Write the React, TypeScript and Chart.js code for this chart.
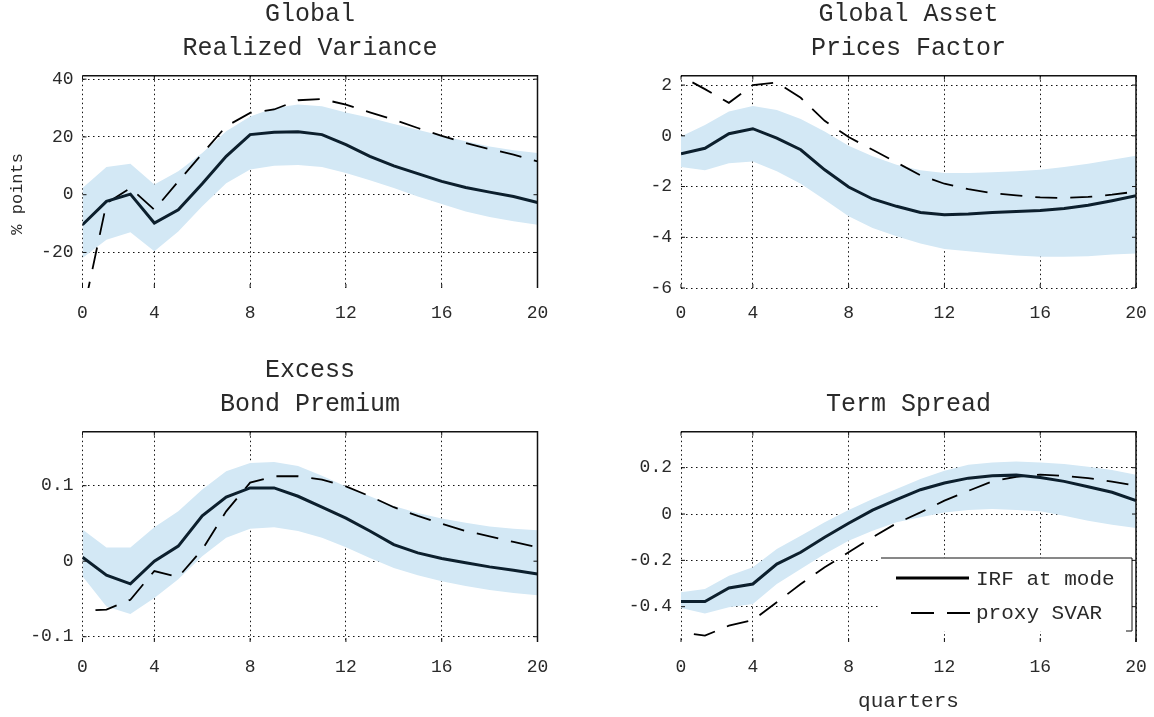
import { useEffect, useRef } from "react";
import { Chart, registerables } from "chart.js";

Chart.register(...registerables);

const FONT = "'Liberation Mono', 'DejaVu Sans Mono', monospace";

// horizon positions on the axis (tick "0" sits at position 1)
const xPositions = [1, 2, 3, 4, 5, 6, 7, 8, 9, 10, 11, 12, 13, 14, 15, 16, 17, 18, 19, 20];
const xTickValues = [1, 4, 8, 12, 16, 20];
const xTickLabels = ["0", "4", "8", "12", "16", "20"];

// Panel 1: Global Realized Variance
const rvIrf = [-10.4, -2.3, 0.2, -9.8, -5.2, 3.8, 13.3, 20.8, 21.6, 21.8, 20.8, 17.3, 13.3, 10.0, 7.3, 4.6, 2.5, 0.9, -0.6, -2.7];
const rvUpper = [2.3, 9.6, 10.7, 3.5, 8.1, 14.4, 22, 27.1, 30, 31.2, 30.6, 28.5, 26.6, 24.5, 22.5, 20.4, 18.5, 16.7, 15.4, 14.4];
const rvLower = [-21.9, -15.6, -13, -19.6, -12.7, -4, 4, 8.7, 10, 10.3, 9.6, 7.5, 5, 2.3, -0.6, -3.2, -5.8, -7.7, -9.2, -10.4];
const rvProxy = [-42, -3, 2.3, -5.2, 4.6, 14.2, 23.7, 28.3, 29.5, 32.7, 33.1, 31.2, 28.5, 26, 23.1, 20.4, 17.9, 15.8, 13.9, 11.5];
const rvTicks = [-20, 0, 20, 40];
const rvTickLabels = ["-20", "0", "20", "40"];

// Panel 2: Global Asset Prices Factor
const apIrf = [-0.71, -0.49, 0.08, 0.28, -0.09, -0.55, -1.34, -2.02, -2.49, -2.78, -3.02, -3.11, -3.08, -3.02, -2.98, -2.94, -2.87, -2.74, -2.56, -2.36];
const apUpper = [-0.03, 0.43, 0.96, 1.18, 1.02, 0.66, 0.17, -0.39, -0.81, -1.14, -1.36, -1.47, -1.47, -1.44, -1.4, -1.34, -1.23, -1.1, -0.94, -0.79];
const apLower = [-1.23, -1.36, -1.08, -1.01, -1.4, -1.89, -2.52, -3.17, -3.63, -3.96, -4.25, -4.46, -4.55, -4.64, -4.72, -4.77, -4.77, -4.75, -4.68, -4.64];
const apProxy = [2.35, 1.84, 1.3, 2.0, 2.1, 1.5, 0.59, -0.05, -0.55, -1.05, -1.56, -1.89, -2.1, -2.26, -2.35, -2.43, -2.45, -2.41, -2.32, -2.2];
const apTicks = [-6, -4, -2, 0, 2];
const apTickLabels = ["-6", "-4", "-2", "0", "2"];

// Panel 3: Excess Bond Premium
const ebpIrf = [0.0053, -0.0185, -0.03, 0.0, 0.02, 0.06, 0.085, 0.097, 0.097, 0.086, 0.0715, 0.057, 0.04, 0.022, 0.011, 0.0035, -0.002, -0.0075, -0.012, -0.017];
const ebpUpper = [0.042, 0.018, 0.018, 0.045, 0.066, 0.095, 0.119, 0.13, 0.1315, 0.126, 0.113, 0.099, 0.086, 0.073, 0.064, 0.0565, 0.051, 0.046, 0.043, 0.041];
const ebpLower = [-0.02, -0.06, -0.07, -0.0486, -0.024, 0.0066, 0.031, 0.043, 0.045, 0.04, 0.031, 0.0185, 0.0044, -0.009, -0.0185, -0.0265, -0.033, -0.038, -0.042, -0.045];
const ebpProxy = [-0.066, -0.064, -0.051, -0.013, -0.021, 0.0155, 0.066, 0.104, 0.1125, 0.1125, 0.108, 0.099, 0.086, 0.0715, 0.06, 0.0495, 0.04, 0.033, 0.0256, 0.0185];
const ebpTicks = [-0.1, 0, 0.1];
const ebpTickLabels = ["-0.1", "0", "0.1"];

// Panel 4: Term Spread
const tsIrf = [-0.378, -0.378, -0.319, -0.302, -0.216, -0.165, -0.1, -0.04, 0.017, 0.062, 0.105, 0.134, 0.155, 0.165, 0.168, 0.158, 0.141, 0.118, 0.094, 0.058];
const tsUpper = [-0.338, -0.324, -0.266, -0.23, -0.151, -0.094, -0.036, 0.017, 0.065, 0.108, 0.151, 0.187, 0.213, 0.223, 0.227, 0.223, 0.216, 0.204, 0.19, 0.17];
const tsLower = [-0.406, -0.429, -0.403, -0.388, -0.302, -0.237, -0.173, -0.115, -0.072, -0.036, -0.014, 0.007, 0.017, 0.022, 0.017, 0.0115, -0.007, -0.029, -0.046, -0.06];
const tsProxy = [-0.51, -0.525, -0.482, -0.458, -0.381, -0.302, -0.23, -0.165, -0.1, -0.04, 0.007, 0.058, 0.1, 0.141, 0.161, 0.17, 0.165, 0.155, 0.14, 0.122];
const tsTicks = [-0.4, -0.2, 0, 0.2];
const tsTickLabels = ["-0.4", "-0.2", "0", "0.2"];

const legendLabels = ["IRF at mode", "proxy SVAR"];

const NAVY = "#0c1f2d";
const BAND = "rgba(211, 232, 245, 1)";
const TEXT = "#2a2a2a";

type PanelCfg = {
  title: string[];
  irf: number[];
  upper: number[];
  lower: number[];
  proxy: number[];
  yMin: number;
  yMax: number;
  yTicks: number[];
  yTickLabels: string[];
  yTitle?: string;
  xTitle?: string;
  legend?: boolean;
  // layout
  left: number;
  top: number;
  w: number;
  h: number;
  yW: number;
  padTop: number;
  padRight: number;
  xH: number;
};

const panels: PanelCfg[] = [
  {
    title: ["Global", "Realized Variance"],
    irf: rvIrf, upper: rvUpper, lower: rvLower, proxy: rvProxy,
    yMin: -32.3, yMax: 41.2, yTicks: rvTicks, yTickLabels: rvTickLabels,
    yTitle: "% points",
    left: 0, top: 0, w: 577, h: 358, yW: 82.5, padTop: 75.7, padRight: 39.5, xH: 70,
  },
  {
    title: ["Global Asset", "Prices Factor"],
    irf: apIrf, upper: apUpper, lower: apLower, proxy: apProxy,
    yMin: -6, yMax: 2.37, yTicks: apTicks, yTickLabels: apTickLabels,
    left: 577, top: 0, w: 577, h: 358, yW: 104, padTop: 75.7, padRight: 18, xH: 70,
  },
  {
    title: ["Excess", "Bond Premium"],
    irf: ebpIrf, upper: ebpUpper, lower: ebpLower, proxy: ebpProxy,
    yMin: -0.107, yMax: 0.1715, yTicks: ebpTicks, yTickLabels: ebpTickLabels,
    left: 0, top: 358, w: 577, h: 359, yW: 82.5, padTop: 73.7, padRight: 39.5, xH: 75,
  },
  {
    title: ["Term Spread"],
    irf: tsIrf, upper: tsUpper, lower: tsLower, proxy: tsProxy,
    yMin: -0.5525, yMax: 0.3555, yTicks: tsTicks, yTickLabels: tsTickLabels,
    xTitle: "quarters", legend: true,
    left: 577, top: 358, w: 577, h: 359, yW: 104, padTop: 73.7, padRight: 18, xH: 75,
  },
];

const toXY = (vals: number[]) => xPositions.map((x, i) => ({ x, y: vals[i] }));

function makeFramePlugin(cfg: PanelCfg) {
  return {
    id: "frame",
    afterDraw(chart: any) {
      const { ctx, chartArea: a, scales } = chart;
      ctx.save();
      ctx.setLineDash([]);
      ctx.strokeStyle = "#111";
      ctx.lineWidth = 1.5;
      ctx.beginPath();
      ctx.moveTo(a.left, a.top);
      ctx.lineTo(a.right, a.top);
      ctx.lineTo(a.right, a.bottom);
      ctx.stroke();

      // inward tick marks
      ctx.lineWidth = 1;
      const tl = 4;
      ctx.beginPath();
      xTickValues.forEach((v) => {
        const px = scales.x.getPixelForValue(v);
        ctx.moveTo(px, a.top);
        ctx.lineTo(px, a.top + tl);
        ctx.moveTo(px, a.bottom);
        ctx.lineTo(px, a.bottom - tl);
      });
      cfg.yTicks.forEach((v) => {
        const py = scales.y.getPixelForValue(v);
        ctx.moveTo(a.left, py);
        ctx.lineTo(a.left + tl, py);
        ctx.moveTo(a.right, py);
        ctx.lineTo(a.right - tl, py);
      });
      ctx.stroke();

      // titles
      ctx.fillStyle = TEXT;
      ctx.font = `25px ${FONT}`;
      ctx.textAlign = "center";
      ctx.textBaseline = "middle";
      const cx = (a.left + a.right) / 2;
      const n = cfg.title.length;
      cfg.title.forEach((line, i) => {
        const fromBottom = n - 1 - i;
        ctx.fillText(line, cx, a.top - 27.5 - fromBottom * 33.5);
      });

      // y-axis label
      if (cfg.yTitle) {
        ctx.save();
        ctx.font = `17px ${FONT}`;
        ctx.translate(17, (a.top + a.bottom) / 2 + 12);
        ctx.rotate(-Math.PI / 2);
        ctx.textAlign = "center";
        ctx.textBaseline = "middle";
        ctx.fillText(cfg.yTitle, 0, 0);
        ctx.restore();
      }

      // legend
      if (cfg.legend) {
        const right = a.right - 4;
        const left = right - 251;
        const top = a.top + 126.3;
        const bottom = a.bottom - 11;
        ctx.fillStyle = "#fff";
        ctx.fillRect(left, top, right - left, bottom - top);
        ctx.strokeStyle = "#111";
        ctx.lineWidth = 1;
        ctx.beginPath();
        ctx.moveTo(left, top);
        ctx.lineTo(right, top);
        ctx.lineTo(right, bottom);
        ctx.lineTo(right - 6, bottom);
        ctx.stroke();

        const y1 = top + 20;
        const y2 = top + 55;
        ctx.strokeStyle = "#000";
        ctx.lineWidth = 3;
        ctx.beginPath();
        ctx.moveTo(left + 15, y1);
        ctx.lineTo(left + 88, y1);
        ctx.stroke();

        ctx.lineWidth = 1.8;
        ctx.setLineDash([23, 13]);
        ctx.beginPath();
        ctx.moveTo(left + 30, y2);
        ctx.lineTo(left + 89, y2);
        ctx.stroke();
        ctx.setLineDash([]);

        ctx.fillStyle = TEXT;
        ctx.font = `21px ${FONT}`;
        ctx.textAlign = "left";
        ctx.textBaseline = "middle";
        ctx.fillText(legendLabels[0], left + 95, y1 + 1);
        ctx.fillText(legendLabels[1], left + 95, y2);
      }
      ctx.restore();
    },
  };
}

function Panel({ cfg }: { cfg: PanelCfg }) {
  const ref = useRef<HTMLCanvasElement>(null);
  useEffect(() => {
    if (!ref.current) return;
    const chart = new Chart(ref.current, {
      type: "line",
      data: {
        datasets: [
          {
            data: toXY(cfg.irf),
            borderColor: NAVY,
            borderWidth: 3,
            pointRadius: 0,
            fill: false,
            tension: 0,
          },
          {
            data: toXY(cfg.proxy),
            borderColor: "#000",
            borderWidth: 1.8,
            borderDash: [22, 13],
            borderDashOffset: 22,
            pointRadius: 0,
            fill: false,
            tension: 0,
          },
          {
            data: toXY(cfg.lower),
            borderColor: "rgba(0,0,0,0)",
            borderWidth: 0,
            pointRadius: 0,
            fill: false,
          },
          {
            data: toXY(cfg.upper),
            borderColor: "rgba(0,0,0,0)",
            borderWidth: 0,
            pointRadius: 0,
            fill: "-1",
            backgroundColor: BAND,
          },
        ],
      } as any,
      options: {
        responsive: false,
        maintainAspectRatio: false,
        animation: false,
        events: [],
        layout: { padding: { left: 0, top: cfg.padTop, right: cfg.padRight, bottom: 0 } },
        plugins: {
          legend: { display: false },
          tooltip: { enabled: false },
          title: { display: false },
        },
        scales: {
          x: {
            type: "linear",
            min: 1,
            max: 20,
            afterBuildTicks: (s: any) => {
              s.ticks = xTickValues.map((value) => ({ value }));
            },
            afterFit: (s: any) => {
              s.height = cfg.xH;
            },
            ticks: {
              autoSkip: false,
              maxRotation: 0,
              padding: 0,
              color: TEXT,
              font: { family: FONT, size: 18 },
              callback: (_v: any, i: number) => xTickLabels[i],
            },
            grid: {
              color: "#111",
              lineWidth: 1,
              drawTicks: true,
              tickLength: 14,
              tickColor: "rgba(0,0,0,0)",
            },
            border: { display: false, dash: [1.5, 3] },
            title: {
              display: !!cfg.xTitle,
              text: cfg.xTitle || "",
              color: TEXT,
              font: { family: FONT, size: 21 },
              padding: { top: 0, bottom: 3 },
            },
          },
          y: {
            type: "linear",
            min: cfg.yMin,
            max: cfg.yMax,
            afterBuildTicks: (s: any) => {
              s.ticks = cfg.yTicks.map((value) => ({ value }));
            },
            afterFit: (s: any) => {
              s.width = cfg.yW;
            },
            ticks: {
              autoSkip: false,
              padding: 9,
              color: TEXT,
              font: { family: FONT, size: 18 },
              callback: (_v: any, i: number) => cfg.yTickLabels[i],
            },
            grid: { color: "#111", lineWidth: 1, drawTicks: false },
            border: { display: false, dash: [1.5, 3.5] },
          },
        },
      } as any,
      plugins: [makeFramePlugin(cfg)],
    });
    return () => chart.destroy();
  }, [cfg]);
  return (
    <canvas
      ref={ref}
      width={cfg.w}
      height={cfg.h}
      style={{ position: "absolute", left: cfg.left, top: cfg.top, width: cfg.w, height: cfg.h }}
    />
  );
}

export default function App() {
  return (
    <div
      style={{
        position: "absolute",
        left: 0,
        top: 0,
        width: 1154,
        height: 717,
        background: "#fff",
        overflow: "hidden",
      }}
    >
      {panels.map((p, i) => (
        <Panel key={i} cfg={p} />
      ))}
    </div>
  );
}
